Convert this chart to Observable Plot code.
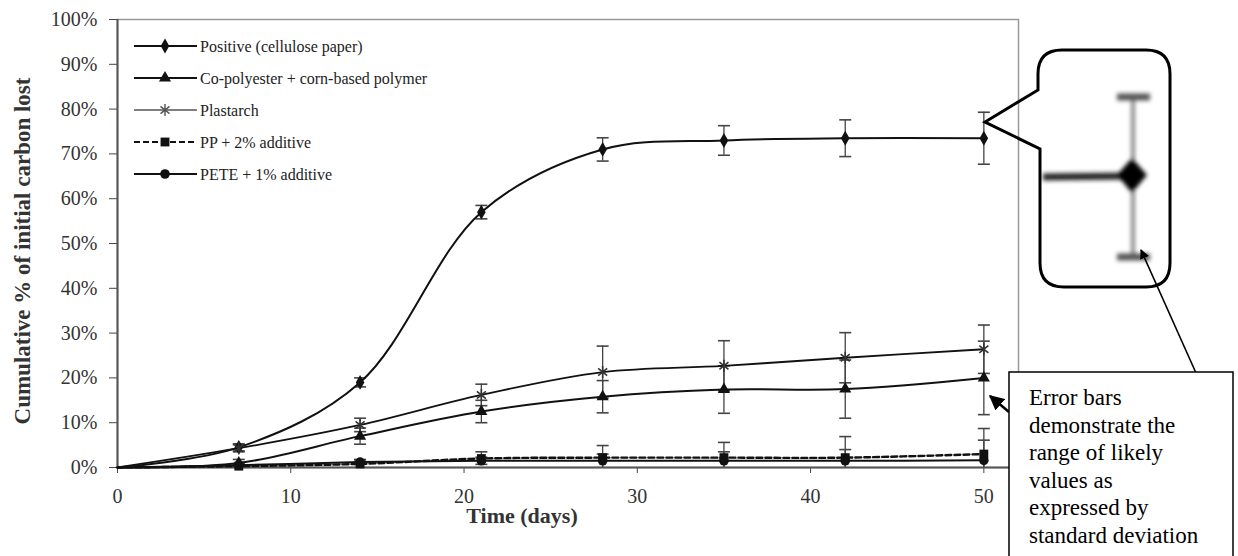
<!DOCTYPE html>
<html><head><meta charset="utf-8">
<script src="https://cdn.jsdelivr.net/npm/d3@7"></script>
<script src="https://cdn.jsdelivr.net/npm/@observablehq/plot@0.6"></script>
<style>
body{margin:0;background:#fff}
#chart{position:relative;width:1238px;height:556px}
</style>
</head><body><div id="chart"></div>
<script>
// ---- data ----
const days = [0, 7, 14, 21, 28, 35, 42, 50];
const seriesNames = ["Positive (cellulose paper)", "Co-polyester + corn-based polymer", "Plastarch", "PP + 2% additive", "PETE + 1% additive"];
const positive    = [0, 4.5, 19, 57, 71, 73, 73.5, 73.5];
const positiveSD  = [0, 0.8, 1.0, 1.5, 2.6, 3.3, 4.1, 5.8];
const copoly      = [0, 1.0, 7.0, 12.5, 15.8, 17.4, 17.5, 20.0];
const copolySD    = [0, 0.8, 1.8, 2.5, 3.6, 5.3, 6.5, 8.2];
const plastarch   = [0, 4.3, 9.5, 16.2, 21.3, 22.7, 24.5, 26.4];
const plastarchSD = [0, 0.8, 1.5, 2.4, 5.8, 5.6, 5.6, 5.4];
const pp          = [0, 0.3, 0.8, 2.0, 2.2, 2.2, 2.2, 3.0];
const ppSD        = [0, 0.5, 1.0, 1.5, 2.7, 3.4, 4.7, 5.7];
const pete        = [0, 0.5, 1.2, 1.5, 1.5, 1.5, 1.5, 1.6];
const peteSD      = [0, 0.3, 0.5, 0.8, 1.5, 2.0, 2.5, 4.5];
const yTicks = [0, 10, 20, 30, 40, 50, 60, 70, 80, 90, 100];
const xTicks = [0, 10, 20, 30, 40, 50];
const yLabel = "Cumulative % of initial carbon lost";
const xLabel = "Time (days)";
const noteLines = ["Error bars", "demonstrate the", "range of likely", "values as", "expressed by", "standard deviation"];

// ---- build table ----
const valueSets = [positive, copoly, plastarch, pp, pete];
const sdSets = [positiveSD, copolySD, plastarchSD, ppSD, peteSD];
const rows = [];
seriesNames.forEach((name, s) => days.forEach((d, i) => rows.push({series: name, day: d, value: valueSets[s][i], sd: sdSets[s][i]})));
const errRows = rows.filter(r => r.sd > 0);

// ---- styles ----
const asterisk = {draw(ctx, size) { const r = Math.sqrt(size / Math.PI);
  ctx.moveTo(0, -r); ctx.lineTo(0, r);
  ctx.moveTo(-r*0.75, -r*0.6); ctx.lineTo(r*0.75, r*0.6);
  ctx.moveTo(-r*0.75, r*0.6); ctx.lineTo(r*0.75, -r*0.6); }};
const cap = {draw(ctx, size) { const r = Math.sqrt(size / Math.PI); ctx.moveTo(-r, 0); ctx.lineTo(r, 0); }};
const style = {
  [seriesNames[0]]: {symbol: "diamond", r: 4.5, fill: "#111", stroke: "none", dash: null, lw: 2},
  [seriesNames[1]]: {symbol: "triangle", r: 4.5, fill: "#111", stroke: "none", dash: null, lw: 2},
  [seriesNames[2]]: {symbol: asterisk, r: 6, fill: "none", stroke: "#333", dash: null, lw: 1.8},
  [seriesNames[3]]: {symbol: "square", r: 5, fill: "#111", stroke: "none", dash: "6,3", lw: 2.4},
  [seriesNames[4]]: {symbol: "circle", r: 4.8, fill: "#111", stroke: "none", dash: null, lw: 2}
};

const marks = [
  Plot.frame({stroke: "#999", strokeWidth: 1.5}),
  Plot.axisY({ticks: yTicks, tickFormat: d => d + "%", tickSize: 8, tickPadding: 12, fontSize: 20, label: null, stroke: "#444", fill: "#333"}),
  Plot.axisX({ticks: xTicks, tickSize: 6, tickPadding: 15, fontSize: 20, label: null, stroke: "#444", fill: "#333"}),
  Plot.ruleX([0], {stroke: "#555", strokeWidth: 2}),
  Plot.ruleY([0], {stroke: "#555", strokeWidth: 2}),
  Plot.ruleX(errRows, {x: "day", y1: d => Math.max(0, d.value - d.sd), y2: d => d.value + d.sd, stroke: "#444", strokeWidth: 1.3}),
  Plot.dot(errRows, {x: "day", y: d => d.value + d.sd, symbol: cap, r: 6, fill: "none", stroke: "#444", strokeWidth: 1.6}),
  Plot.dot(errRows.filter(d => d.value - d.sd > 0.5), {x: "day", y: d => d.value - d.sd, symbol: cap, r: 6, fill: "none", stroke: "#444", strokeWidth: 1.6})
];
seriesNames.forEach(name => {
  const st = style[name];
  const data = rows.filter(r => r.series === name);
  marks.push(Plot.line(data, {x: "day", y: "value", curve: "catmull-rom", stroke: "#111", strokeWidth: st.lw, strokeDasharray: st.dash}));
});
seriesNames.forEach(name => {
  const st = style[name];
  const data = rows.filter(r => r.series === name && r.day > 0);
  marks.push(Plot.dot(data, {x: "day", y: "value", symbol: st.symbol, r: st.r, fill: st.fill, stroke: st.stroke, strokeWidth: 1.6}));
});

const plot = Plot.plot({
  width: 1238, height: 556,
  marginLeft: 117, marginRight: 220, marginTop: 19, marginBottom: 89,
  style: {fontFamily: "'Liberation Serif', serif", background: "#fff", color: "#111"},
  x: {domain: [0, 52]},
  y: {domain: [0, 100]},
  marks
});
document.getElementById("chart").appendChild(plot);

// ---- annotations ----
const svg = d3.select(plot);
const ys = plot.scale("y");
const serif = "'Liberation Serif', serif";

// axis labels
svg.append("text").attr("transform", `translate(30,${(ys.apply(0)+ys.apply(100))/2 + 8}) rotate(-90)`)
  .attr("text-anchor", "middle").attr("font-family", serif).attr("font-weight", "bold").attr("font-size", 23).attr("fill", "#333").text(yLabel);
svg.append("text").attr("x", 522).attr("y", 523).attr("text-anchor", "middle")
  .attr("font-family", serif).attr("font-weight", "bold").attr("font-size", 22).attr("fill", "#333").text(xLabel);

// legend
const lg = svg.append("g").attr("text-anchor", "start");
seriesNames.forEach((name, i) => {
  const st = style[name];
  const y = 46 + i * 32;
  lg.append("line").attr("x1", 134).attr("x2", 197).attr("y1", y).attr("y2", y)
    .attr("stroke", i === 2 ? "#555" : "#111").attr("stroke-width", i === 2 ? 1.5 : 2).attr("stroke-dasharray", st.dash);
  const sym = typeof st.symbol === "string" ? ({diamond: d3.symbolDiamond, triangle: d3.symbolTriangle, square: d3.symbolSquare, circle: d3.symbolCircle})[st.symbol] : st.symbol;
  lg.append("path").attr("transform", `translate(165,${y})`)
    .attr("d", d3.symbol(sym, st.r * st.r * Math.PI)())
    .attr("fill", st.fill).attr("stroke", st.stroke === "none" ? "none" : "#555").attr("stroke-width", 1.4);
  lg.append("text").attr("x", 200).attr("y", y).attr("dy", "0.35em").attr("text-anchor", "start").attr("font-family", serif)
    .attr("font-size", 16).attr("fill", "#222").text(name);
});

// callout with magnified error bar
const defs = svg.append("defs");
defs.append("filter").attr("id", "blur").append("feGaussianBlur").attr("stdDeviation", 2);
defs.append("marker").attr("id", "arr").attr("viewBox", "0 0 10 10").attr("refX", 9).attr("refY", 5)
  .attr("markerWidth", 6).attr("markerHeight", 6).attr("orient", "auto-start-reverse")
  .append("path").attr("d", "M0,0 L10,5 L0,10 z").attr("fill", "#000");

const zoomG = svg.append("g").attr("filter", "url(#blur)");
zoomG.append("line").attr("x1", 1043).attr("x2", 1130).attr("y1", 177).attr("y2", 176).attr("stroke", "#222").attr("stroke-width", 7);
zoomG.append("line").attr("x1", 1133).attr("x2", 1133).attr("y1", 97).attr("y2", 257).attr("stroke", "#777").attr("stroke-width", 3.5);
zoomG.append("line").attr("x1", 1117).attr("x2", 1150).attr("y1", 97).attr("y2", 97).attr("stroke", "#555").attr("stroke-width", 7);
zoomG.append("line").attr("x1", 1117).attr("x2", 1150).attr("y1", 257).attr("y2", 257).attr("stroke", "#555").attr("stroke-width", 7);
zoomG.append("path").attr("d", "M1132,158 L1147,175 L1132,193 L1117,175 Z").attr("fill", "#000");

svg.append("path")
  .attr("d", "M1062,50 H1146 Q1170,50 1170,74 V263 Q1170,287 1146,287 H1064 Q1040,287 1040,263 V149 L985,122 L1038,90 V74 Q1038,50 1062,50 Z")
  .attr("fill", "none").attr("stroke", "#000").attr("stroke-width", 3);

// arrows
svg.append("line").attr("x1", 1196).attr("y1", 373).attr("x2", 1141).attr("y2", 250)
  .attr("stroke", "#000").attr("stroke-width", 1.6).attr("marker-end", "url(#arr)");
svg.append("line").attr("x1", 1009).attr("y1", 412).attr("x2", 990).attr("y2", 396)
  .attr("stroke", "#000").attr("stroke-width", 2.5).attr("marker-end", "url(#arr)");

// note box
svg.append("rect").attr("x", 1009).attr("y", 372).attr("width", 224).attr("height", 200)
  .attr("fill", "#fff").attr("stroke", "#000").attr("stroke-width", 1.5);
const nt = svg.append("text").attr("text-anchor", "start").attr("font-family", serif).attr("font-size", 23).attr("fill", "#000");
noteLines.forEach((t, i) => nt.append("tspan").attr("x", 1029).attr("y", 405 + i * 27.6).text(t));
</script>
</body></html>
